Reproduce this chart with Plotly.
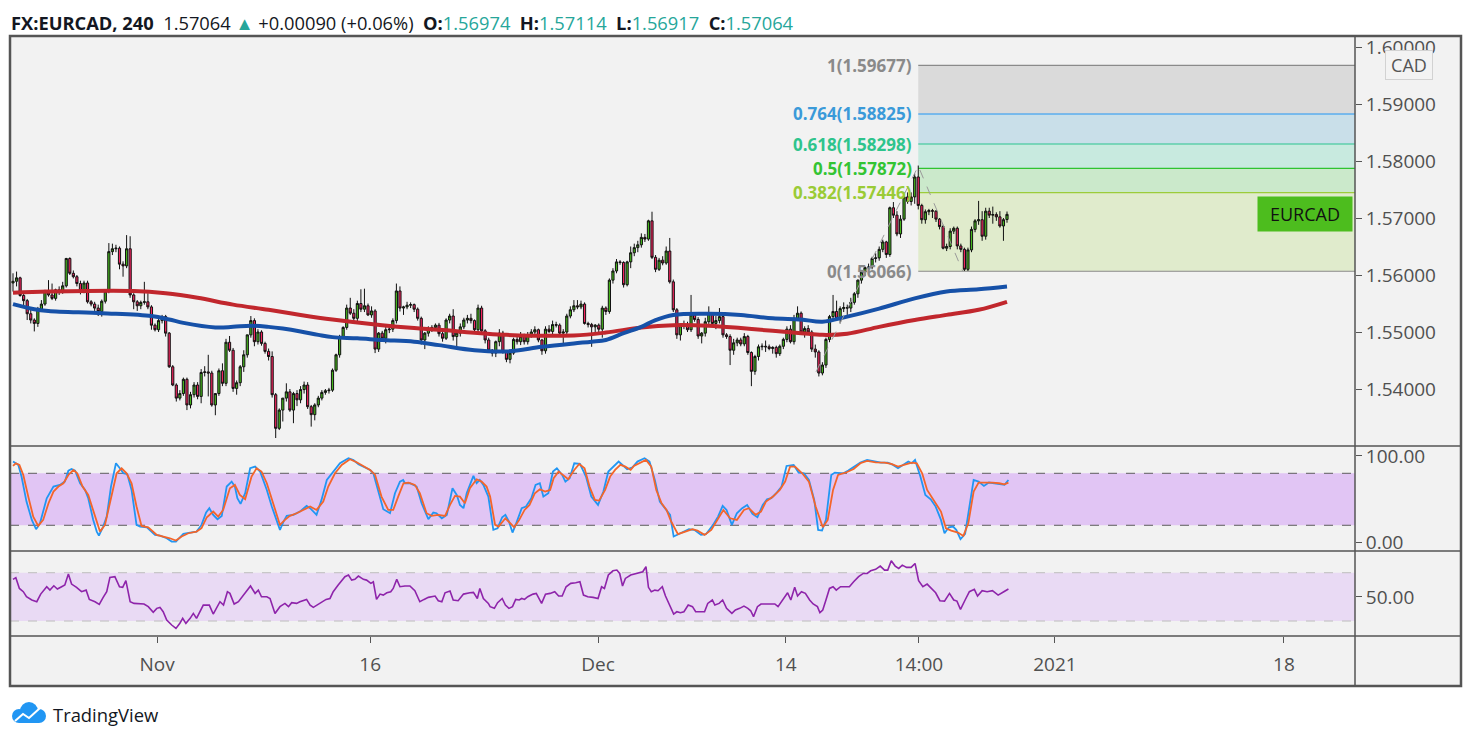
import plotly.graph_objects as go

FONT = "Open Sans, Noto Sans, sans-serif"

# 4h candles, bar 0 = first bar on the chart (late Oct 2020) ... bar 280 = last bar
opens = [
    1.5586, 1.5589, 1.5595, 1.5564, 1.5555, 1.5532, 1.5521, 1.5515, 1.5540, 1.5549,
    1.5572, 1.5565, 1.5559, 1.5574, 1.5570, 1.5581, 1.5629, 1.5603, 1.5597, 1.5585,
    1.5571, 1.5586, 1.5553, 1.5549, 1.5542, 1.5536, 1.5554, 1.5571, 1.5641, 1.5646,
    1.5647, 1.5619, 1.5616, 1.5646, 1.5565, 1.5553, 1.5546, 1.5552, 1.5553, 1.5544,
    1.5512, 1.5504, 1.5520, 1.5527, 1.5498, 1.5439, 1.5407, 1.5384, 1.5392, 1.5417,
    1.5372, 1.5390, 1.5407, 1.5387, 1.5429, 1.5430, 1.5428, 1.5372, 1.5392, 1.5432,
    1.5410, 1.5482, 1.5468, 1.5401, 1.5411, 1.5439, 1.5460, 1.5495, 1.5520, 1.5483,
    1.5500, 1.5480, 1.5466, 1.5457, 1.5390, 1.5331, 1.5363, 1.5384, 1.5395, 1.5363,
    1.5392, 1.5381, 1.5399, 1.5407, 1.5369, 1.5355, 1.5372, 1.5384, 1.5394, 1.5397,
    1.5398, 1.5433, 1.5460, 1.5492, 1.5508, 1.5542, 1.5533, 1.5524, 1.5550, 1.5540,
    1.5546, 1.5530, 1.5537, 1.5470, 1.5498, 1.5489, 1.5504, 1.5505, 1.5520, 1.5572,
    1.5542, 1.5544, 1.5547, 1.5548, 1.5540, 1.5524, 1.5486, 1.5498, 1.5506, 1.5508,
    1.5512, 1.5497, 1.5489, 1.5521, 1.5528, 1.5492, 1.5498, 1.5509, 1.5521, 1.5524,
    1.5520, 1.5504, 1.5542, 1.5502, 1.5486, 1.5468, 1.5463, 1.5483, 1.5498, 1.5466,
    1.5452, 1.5463, 1.5487, 1.5483, 1.5492, 1.5483, 1.5495, 1.5500, 1.5504, 1.5486,
    1.5467, 1.5505, 1.5501, 1.5513, 1.5512, 1.5498, 1.5500, 1.5528, 1.5539, 1.5546,
    1.5544, 1.5549, 1.5515, 1.5513, 1.5509, 1.5512, 1.5505, 1.5542, 1.5536, 1.5591,
    1.5607, 1.5623, 1.5622, 1.5583, 1.5623, 1.5639, 1.5648, 1.5653, 1.5666, 1.5663,
    1.5695, 1.5631, 1.5610, 1.5626, 1.5621, 1.5642, 1.5588, 1.5539, 1.5495, 1.5511,
    1.5513, 1.5504, 1.5530, 1.5522, 1.5493, 1.5498, 1.5518, 1.5532, 1.5515, 1.5520,
    1.5527, 1.5495, 1.5492, 1.5468, 1.5481, 1.5486, 1.5479, 1.5492, 1.5464, 1.5431,
    1.5457, 1.5474, 1.5475, 1.5474, 1.5471, 1.5473, 1.5462, 1.5475, 1.5487, 1.5505,
    1.5483, 1.5524, 1.5533, 1.5500, 1.5506, 1.5500, 1.5470, 1.5465, 1.5428, 1.5442,
    1.5487, 1.5527, 1.5536, 1.5524, 1.5541, 1.5543, 1.5542, 1.5552, 1.5567, 1.5591,
    1.5605, 1.5613, 1.5614, 1.5629, 1.5630, 1.5645, 1.5658, 1.5636, 1.5718, 1.5705,
    1.5672, 1.5698, 1.5737, 1.5729, 1.5737, 1.5772, 1.5722, 1.5697, 1.5711, 1.5713,
    1.5712, 1.5698, 1.5685, 1.5647, 1.5650, 1.5677, 1.5682, 1.5651, 1.5645, 1.5610,
    1.5644, 1.5680, 1.5695, 1.5697, 1.5668, 1.5712, 1.5705, 1.5706, 1.5702, 1.5686,
    1.56974,
]
highs = [
    1.5603, 1.5606, 1.5597, 1.5567, 1.5558, 1.5539, 1.5524, 1.5544, 1.5556, 1.5574,
    1.5591, 1.5585, 1.5576, 1.5580, 1.5588, 1.5630, 1.5631, 1.5608, 1.5600, 1.5590,
    1.5590, 1.5590, 1.5556, 1.5553, 1.5548, 1.5557, 1.5572, 1.5656, 1.5655, 1.5653,
    1.5650, 1.5624, 1.5670, 1.5668, 1.5568, 1.5556, 1.5555, 1.5588, 1.5568, 1.5547,
    1.5515, 1.5527, 1.5530, 1.5530, 1.5500, 1.5442, 1.5410, 1.5398, 1.5420, 1.5420,
    1.5395, 1.5412, 1.5412, 1.5435, 1.5440, 1.5460, 1.5432, 1.5393, 1.5436, 1.5445,
    1.5488, 1.5493, 1.5472, 1.5415, 1.5442, 1.5468, 1.5495, 1.5528, 1.5524, 1.5505,
    1.5503, 1.5483, 1.5471, 1.5466, 1.5393, 1.5366, 1.5384, 1.5410, 1.5400, 1.5395,
    1.5398, 1.5405, 1.5413, 1.5412, 1.5372, 1.5375, 1.5388, 1.5398, 1.5400, 1.5402,
    1.5436, 1.5462, 1.5495, 1.5510, 1.5548, 1.5560, 1.5540, 1.5555, 1.5575, 1.5576,
    1.5550, 1.5545, 1.5540, 1.5500, 1.5502, 1.5510, 1.5512, 1.5524, 1.5585, 1.5580,
    1.5546, 1.5553, 1.5552, 1.5550, 1.5543, 1.5527, 1.5500, 1.5510, 1.5512, 1.5515,
    1.5516, 1.5500, 1.5524, 1.5532, 1.5540, 1.5500, 1.5515, 1.5525, 1.5530, 1.5532,
    1.5522, 1.5548, 1.5546, 1.5505, 1.5490, 1.5470, 1.5485, 1.5505, 1.5502, 1.5468,
    1.5465, 1.5490, 1.5495, 1.5500, 1.5497, 1.5500, 1.5505, 1.5510, 1.5506, 1.5488,
    1.5510, 1.5512, 1.5520, 1.5518, 1.5515, 1.5505, 1.5532, 1.5545, 1.5556, 1.5556,
    1.5555, 1.5552, 1.5518, 1.5516, 1.5514, 1.5515, 1.5546, 1.5545, 1.5594, 1.5612,
    1.5628, 1.5626, 1.5624, 1.5625, 1.5650, 1.5655, 1.5660, 1.5673, 1.5672, 1.5697,
    1.5711, 1.5635, 1.5630, 1.5633, 1.5650, 1.5665, 1.5592, 1.5542, 1.5515, 1.5520,
    1.5518, 1.5565, 1.5535, 1.5526, 1.5500, 1.5525, 1.5545, 1.5535, 1.5528, 1.5542,
    1.5530, 1.5498, 1.5496, 1.5488, 1.5490, 1.5490, 1.5498, 1.5495, 1.5466, 1.5460,
    1.5478, 1.5480, 1.5485, 1.5478, 1.5475, 1.5476, 1.5478, 1.5490, 1.5510, 1.5512,
    1.5530, 1.5545, 1.5536, 1.5510, 1.5512, 1.5503, 1.5478, 1.5468, 1.5447, 1.5490,
    1.5530, 1.5565, 1.5555, 1.5545, 1.5552, 1.5548, 1.5560, 1.5570, 1.5592, 1.5607,
    1.5615, 1.5620, 1.5632, 1.5638, 1.5650, 1.5662, 1.5660, 1.5720, 1.5728, 1.5712,
    1.5705, 1.5745, 1.5745, 1.5745, 1.5778, 1.5792, 1.5725, 1.5715, 1.5716, 1.5716,
    1.5714, 1.5700, 1.5688, 1.5655, 1.5682, 1.5685, 1.5685, 1.5655, 1.5648, 1.5648,
    1.5685, 1.5698, 1.5730, 1.5712, 1.5718, 1.5718, 1.5720, 1.5710, 1.5712, 1.5700,
    1.57114,
]
lows = [
    1.5571, 1.5580, 1.5562, 1.5547, 1.5521, 1.5515, 1.5501, 1.5509, 1.5537, 1.5546,
    1.5562, 1.5556, 1.5555, 1.5565, 1.5567, 1.5578, 1.5600, 1.5594, 1.5580, 1.5566,
    1.5568, 1.5550, 1.5545, 1.5537, 1.5528, 1.5527, 1.5550, 1.5568, 1.5635, 1.5640,
    1.5610, 1.5597, 1.5612, 1.5560, 1.5540, 1.5537, 1.5540, 1.5548, 1.5540, 1.5504,
    1.5501, 1.5500, 1.5515, 1.5492, 1.5437, 1.5405, 1.5378, 1.5380, 1.5388, 1.5363,
    1.5366, 1.5385, 1.5382, 1.5375, 1.5422, 1.5387, 1.5369, 1.5354, 1.5388, 1.5405,
    1.5405, 1.5465, 1.5395, 1.5390, 1.5405, 1.5430, 1.5455, 1.5490, 1.5475, 1.5478,
    1.5476, 1.5462, 1.5450, 1.5385, 1.5314, 1.5328, 1.5343, 1.5378, 1.5360, 1.5340,
    1.5370, 1.5375, 1.5392, 1.5365, 1.5334, 1.5345, 1.5368, 1.5380, 1.5390, 1.5392,
    1.5395, 1.5430, 1.5455, 1.5488, 1.5504, 1.5530, 1.5515, 1.5518, 1.5535, 1.5535,
    1.5528, 1.5525, 1.5463, 1.5465, 1.5485, 1.5480, 1.5498, 1.5500, 1.5515, 1.5536,
    1.5530, 1.5540, 1.5542, 1.5535, 1.5520, 1.5478, 1.5470, 1.5492, 1.5500, 1.5502,
    1.5492, 1.5483, 1.5486, 1.5515, 1.5485, 1.5475, 1.5492, 1.5505, 1.5515, 1.5515,
    1.5500, 1.5500, 1.5498, 1.5480, 1.5465, 1.5457, 1.5456, 1.5475, 1.5462, 1.5447,
    1.5445, 1.5460, 1.5478, 1.5477, 1.5478, 1.5478, 1.5490, 1.5495, 1.5482, 1.5460,
    1.5462, 1.5498, 1.5495, 1.5508, 1.5492, 1.5477, 1.5496, 1.5524, 1.5535, 1.5540,
    1.5540, 1.5513, 1.5508, 1.5474, 1.5500, 1.5500, 1.5490, 1.5530, 1.5532, 1.5585,
    1.5603, 1.5618, 1.5578, 1.5580, 1.5612, 1.5633, 1.5640, 1.5648, 1.5658, 1.5660,
    1.5628, 1.5605, 1.5607, 1.5617, 1.5618, 1.5585, 1.5535, 1.5488, 1.5485, 1.5505,
    1.5500, 1.5500, 1.5518, 1.5488, 1.5480, 1.5492, 1.5512, 1.5512, 1.5505, 1.5515,
    1.5490, 1.5488, 1.5442, 1.5460, 1.5475, 1.5475, 1.5475, 1.5460, 1.5405, 1.5425,
    1.5450, 1.5468, 1.5465, 1.5468, 1.5462, 1.5455, 1.5458, 1.5470, 1.5482, 1.5480,
    1.5478, 1.5520, 1.5495, 1.5490, 1.5495, 1.5465, 1.5455, 1.5422, 1.5424, 1.5437,
    1.5482, 1.5522, 1.5522, 1.5515, 1.5535, 1.5530, 1.5535, 1.5548, 1.5560, 1.5585,
    1.5598, 1.5608, 1.5610, 1.5622, 1.5625, 1.5640, 1.5630, 1.5632, 1.5700, 1.5668,
    1.5665, 1.5695, 1.5725, 1.5722, 1.5725, 1.5715, 1.5690, 1.5690, 1.5705, 1.5700,
    1.5693, 1.5680, 1.5645, 1.5642, 1.5645, 1.5672, 1.5645, 1.5640, 1.5607, 1.5607,
    1.5640, 1.5675, 1.5688, 1.5660, 1.5662, 1.5700, 1.5690, 1.5695, 1.5683, 1.5660,
    1.56917,
]
closes = [
    1.5589, 1.5595, 1.5564, 1.5555, 1.5532, 1.5521, 1.5515, 1.5540, 1.5549, 1.5572,
    1.5565, 1.5559, 1.5574, 1.5570, 1.5581, 1.5629, 1.5603, 1.5597, 1.5585, 1.5571,
    1.5586, 1.5553, 1.5549, 1.5542, 1.5536, 1.5554, 1.5571, 1.5641, 1.5646, 1.5647,
    1.5619, 1.5616, 1.5646, 1.5565, 1.5553, 1.5546, 1.5552, 1.5553, 1.5544, 1.5512,
    1.5504, 1.5520, 1.5527, 1.5498, 1.5439, 1.5407, 1.5384, 1.5392, 1.5417, 1.5372,
    1.5390, 1.5407, 1.5387, 1.5429, 1.5430, 1.5428, 1.5372, 1.5392, 1.5432, 1.5410,
    1.5482, 1.5468, 1.5401, 1.5411, 1.5439, 1.5460, 1.5495, 1.5520, 1.5483, 1.5500,
    1.5480, 1.5466, 1.5457, 1.5390, 1.5331, 1.5363, 1.5384, 1.5395, 1.5363, 1.5392,
    1.5381, 1.5399, 1.5407, 1.5369, 1.5355, 1.5372, 1.5384, 1.5394, 1.5397, 1.5398,
    1.5433, 1.5460, 1.5492, 1.5508, 1.5542, 1.5533, 1.5524, 1.5550, 1.5540, 1.5546,
    1.5530, 1.5537, 1.5470, 1.5498, 1.5489, 1.5504, 1.5505, 1.5520, 1.5572, 1.5542,
    1.5544, 1.5547, 1.5548, 1.5540, 1.5524, 1.5486, 1.5498, 1.5506, 1.5508, 1.5512,
    1.5497, 1.5489, 1.5521, 1.5528, 1.5492, 1.5498, 1.5509, 1.5521, 1.5524, 1.5520,
    1.5504, 1.5542, 1.5502, 1.5486, 1.5468, 1.5463, 1.5483, 1.5498, 1.5466, 1.5452,
    1.5463, 1.5487, 1.5483, 1.5492, 1.5483, 1.5495, 1.5500, 1.5504, 1.5486, 1.5467,
    1.5505, 1.5501, 1.5513, 1.5512, 1.5498, 1.5500, 1.5528, 1.5539, 1.5546, 1.5544,
    1.5549, 1.5515, 1.5513, 1.5509, 1.5512, 1.5505, 1.5542, 1.5536, 1.5591, 1.5607,
    1.5623, 1.5622, 1.5583, 1.5623, 1.5639, 1.5648, 1.5653, 1.5666, 1.5663, 1.5695,
    1.5631, 1.5610, 1.5626, 1.5621, 1.5642, 1.5588, 1.5539, 1.5495, 1.5511, 1.5513,
    1.5504, 1.5530, 1.5522, 1.5493, 1.5498, 1.5518, 1.5532, 1.5515, 1.5520, 1.5527,
    1.5495, 1.5492, 1.5468, 1.5481, 1.5486, 1.5479, 1.5492, 1.5464, 1.5431, 1.5457,
    1.5474, 1.5475, 1.5474, 1.5471, 1.5473, 1.5462, 1.5475, 1.5487, 1.5505, 1.5483,
    1.5524, 1.5533, 1.5500, 1.5506, 1.5500, 1.5470, 1.5465, 1.5428, 1.5442, 1.5487,
    1.5527, 1.5536, 1.5524, 1.5541, 1.5543, 1.5542, 1.5552, 1.5567, 1.5591, 1.5605,
    1.5613, 1.5614, 1.5629, 1.5630, 1.5645, 1.5658, 1.5636, 1.5718, 1.5705, 1.5672,
    1.5698, 1.5737, 1.5729, 1.5737, 1.5772, 1.5722, 1.5697, 1.5711, 1.5713, 1.5712,
    1.5698, 1.5685, 1.5647, 1.5650, 1.5677, 1.5682, 1.5651, 1.5645, 1.5610, 1.5644,
    1.5680, 1.5695, 1.5697, 1.5668, 1.5712, 1.5705, 1.5706, 1.5702, 1.5686, 1.5697,
    1.57064,
]
bars = list(range(len(closes)))

# moving averages read at a few bars along each curve (bar, price)
ma_red_pts = [
    (0, 1.5569), (10, 1.5571), (34, 1.5572), (43, 1.5568), (52, 1.5560), (62, 1.5548),
    (72, 1.5539), (81, 1.5530), (90, 1.5522), (104, 1.5512), (113, 1.5507), (120, 1.5504),
    (139, 1.5495), (158, 1.5494), (167, 1.5499), (177, 1.5508), (186, 1.5512), (196, 1.5511),
    (205, 1.5507), (214, 1.5502), (222, 1.5498), (228, 1.5495), (235, 1.5497), (244, 1.5509),
    (254, 1.5521), (263, 1.5530), (272, 1.5539), (280, 1.5553),
]
ma_blue_pts = [
    (0, 1.5549), (6, 1.5540), (10, 1.5537), (25, 1.5533), (39, 1.5528), (44, 1.5522),
    (48, 1.5516), (57, 1.5508), (62, 1.5509), (67, 1.5511), (72, 1.5509), (76, 1.5506),
    (81, 1.5501), (86, 1.5495), (90, 1.5491), (97, 1.5489), (104, 1.5486), (113, 1.5483),
    (120, 1.5477), (130, 1.5468), (139, 1.5466), (149, 1.5474), (158, 1.5480), (163, 1.5483),
    (167, 1.5486), (172, 1.5498), (177, 1.5509), (181, 1.5521), (186, 1.5530), (196, 1.5532),
    (205, 1.5530), (214, 1.5524), (222, 1.5522), (228, 1.5518), (235, 1.5527), (244, 1.5541),
    (254, 1.5559), (263, 1.5571), (272, 1.5575), (280, 1.5580),
]

# stochastic %K (blue) and %D (orange), (bar, value)
stoch_k_pts = [
    (0, 93.5), (1.5, 89.7), (2.4, 76.2), (3.8, 47.3), (5.3, 26.2), (6.5, 15.4), (7.6, 22.3),
    (9.5, 51.2), (11.4, 64.7), (12.3, 65.4), (13.2, 66.6), (14.6, 70.4), (15.6, 83.1),
    (16.5, 85.0), (17.5, 83.1), (18.9, 68.5), (20.3, 60.8), (21.2, 51.2), (22.6, 26.2),
    (23.6, 12.7), (24.2, 8.1), (25.4, 18.5), (26.4, 30.0), (27.6, 64.7), (29.0, 91.6),
    (30.1, 85.8), (31.1, 80.0), (32.2, 78.9), (33.4, 60.8), (34.8, 20.4), (35.8, 18.5),
    (37.7, 17.7), (40.0, 8.9), (41.4, 8.1), (43.3, 5.0), (44.7, 1.2), (45.9, 1.2), (47.1, 6.2),
    (48.0, 10.0), (49.9, 11.6), (51.7, 12.7), (53.1, 20.4), (54.4, 34.7), (55.3, 39.7),
    (56.4, 32.0), (57.6, 27.0), (58.8, 30.8), (60.2, 64.7), (61.6, 70.4), (62.5, 64.7),
    (63.2, 51.2), (64.1, 44.7), (65.4, 57.0), (66.8, 85.8), (68.2, 87.7), (69.6, 82.0),
    (71.5, 60.8), (72.9, 41.6), (74.1, 26.2), (75.2, 14.7), (76.2, 24.3), (77.1, 30.8),
    (79.0, 32.0), (80.8, 35.8), (82.7, 42.3), (83.7, 39.7), (85.5, 32.0), (86.9, 49.3),
    (88.4, 72.3), (90.2, 82.0), (92.1, 91.6), (94.5, 97.3), (95.9, 95.4), (97.3, 90.4),
    (98.7, 87.7), (100.6, 83.9), (101.5, 80.0), (102.9, 58.9), (104.3, 38.5), (106.2, 33.9),
    (107.6, 57.0), (109.0, 70.4), (109.9, 72.3), (110.4, 68.5), (111.8, 68.5), (113.7, 64.7),
    (115.1, 45.4), (117.0, 27.0), (118.4, 34.7), (119.3, 33.9), (120.8, 28.1), (122.2, 32.0),
    (123.8, 62.7), (125.0, 55.0), (125.9, 43.5), (126.9, 39.7), (127.8, 57.0), (129.7, 77.0),
    (130.6, 68.5), (131.5, 72.3), (132.5, 66.6), (133.9, 53.1), (135.3, 14.7), (136.5, 16.6),
    (137.8, 29.3), (138.7, 32.0), (139.7, 24.3), (140.7, 11.6), (141.6, 20.4), (143.3, 39.7),
    (144.5, 41.6), (146.0, 51.2), (147.2, 66.6), (148.4, 68.5), (149.4, 53.1), (150.8, 57.0),
    (152.1, 82.0), (153.2, 85.8), (154.7, 78.1), (155.6, 70.4), (156.8, 74.3), (158.1, 91.6),
    (159.7, 90.8), (161.4, 76.2), (162.9, 53.1), (164.8, 43.5), (166.3, 58.9), (167.7, 82.0),
    (169.2, 87.7), (170.6, 93.5), (173.0, 84.7), (174.5, 87.0), (175.9, 93.5), (177.9, 97.3),
    (179.3, 93.5), (180.8, 72.3), (182.2, 47.3), (183.7, 39.7), (185.1, 32.0), (186.1, 7.0),
    (188.0, 10.8), (190.4, 15.4), (191.9, 14.7), (193.8, 8.9), (195.2, 9.7), (197.2, 20.4),
    (198.6, 30.0), (199.9, 42.3), (201.0, 37.7), (202.5, 20.4), (203.9, 33.9), (205.4, 39.7),
    (206.8, 43.5), (208.3, 33.1), (209.7, 29.3), (211.2, 43.5), (212.4, 50.0), (213.6, 51.2),
    (215.0, 57.0), (216.5, 64.7), (217.9, 88.5), (219.9, 89.7), (221.3, 80.8), (222.8, 80.0),
    (224.2, 72.3), (225.7, 49.3), (226.8, 14.7), (227.9, 13.9), (229.0, 26.2), (230.5, 78.1),
    (231.5, 80.8), (233.9, 80.0), (235.3, 83.1), (236.8, 87.0), (238.7, 92.3), (240.6, 95.4),
    (242.6, 93.5), (244.5, 92.3), (246.4, 92.3), (247.9, 89.7), (249.3, 85.8), (250.8, 89.7),
    (252.2, 93.5), (253.2, 91.6), (254.1, 95.4), (255.6, 76.2), (257.0, 55.0), (258.5, 50.0),
    (259.9, 41.6), (261.4, 26.2), (262.4, 10.8), (263.6, 17.7), (264.8, 18.5), (265.7, 14.7),
    (266.9, 3.9), (268.2, 10.0), (269.4, 41.6), (270.6, 72.3), (272.0, 70.4), (273.5, 65.4),
    (274.9, 69.3), (276.4, 68.5), (277.8, 67.3), (279.3, 66.6), (280.4, 72.3),
]
stoch_d_pts = [
    (0, 88.5), (0.8, 91.6), (1.8, 89.7), (2.9, 78.1), (4.3, 53.1), (5.7, 30.0), (7.1, 19.3),
    (8.5, 26.2), (10, 45.4), (11.4, 58.9), (12.8, 64.7), (14.2, 68.5), (15.6, 78.1), (17, 83.9),
    (18.1, 80.0), (19.6, 64.7), (21.2, 55.0), (22.6, 37.7), (24.5, 12.7), (25.9, 20.4),
    (27.3, 47.3), (29.2, 80.0), (30.6, 85.8), (32, 80.0), (33.4, 68.5), (34.8, 41.6),
    (36.2, 19.3), (38.1, 17.7), (40.5, 8.9), (42.3, 7.0), (44.2, 5.0), (45.9, 2.3), (47.5, 7.0),
    (49.4, 10.8), (51.7, 12.7), (53.1, 16.6), (54.6, 29.3), (56.4, 35.8), (57.8, 30.0),
    (59.2, 37.7), (61.1, 62.7), (62.5, 66.6), (63.9, 55.0), (65.4, 50.0), (67.2, 76.2),
    (68.6, 85.8), (70, 82.0), (71.5, 68.5), (73.3, 45.4), (75.2, 20.4), (76.6, 26.2),
    (78, 30.8), (79.9, 33.9), (81.8, 37.7), (83.7, 41.6), (85.5, 37.7), (87.4, 47.3),
    (88.8, 64.7), (90.7, 80.0), (92.6, 89.7), (94.9, 96.2), (96.8, 92.7), (98.7, 88.5),
    (100.6, 83.9), (102, 78.1), (103.8, 53.1), (105.7, 37.7), (107.1, 37.7), (108.5, 53.1),
    (110, 68.5), (111.4, 69.3), (113.2, 66.6), (114.6, 57.0), (116.5, 33.9), (117.9, 30.8),
    (119.8, 32.0), (121.7, 30.8), (123.1, 43.5), (124.5, 53.9), (125.9, 53.1), (127.3, 45.4),
    (128.7, 62.7), (130.6, 73.1), (132, 70.4), (133.4, 64.7), (134.4, 53.1), (135.8, 20.4),
    (136.8, 18.5), (138.7, 28.1), (140.0, 22.3), (141.2, 17.7), (142.6, 26.2), (144.1, 37.7),
    (145.5, 43.5), (147.0, 57.0), (148.4, 61.6), (149.9, 58.9), (151.3, 60.8), (152.3, 74.3),
    (153.7, 82.0), (155.2, 77.0), (156.4, 73.1), (158.1, 83.9), (159.5, 90.8), (161.0, 85.8),
    (162.4, 64.7), (163.9, 49.3), (165.1, 48.5), (166.8, 60.8), (168.2, 76.2), (169.6, 83.9),
    (171.1, 89.7), (172.5, 87.7), (174.0, 83.9), (174.9, 88.5), (176.9, 92.3), (178.3, 95.4),
    (179.8, 87.7), (181.2, 60.8), (182.7, 45.4), (184.1, 37.7), (185.4, 24.3), (187.3, 9.7),
    (189.4, 12.7), (191.4, 15.4), (192.8, 13.9), (194.8, 8.9), (196.7, 14.7), (198.1, 24.3),
    (200.1, 37.7), (202.0, 28.1), (203.9, 26.2), (205.9, 37.7), (207.3, 39.7), (209.2, 32.0),
    (210.7, 35.8), (212.1, 47.3), (214.1, 53.1), (216.0, 60.8), (217.5, 70.4), (218.9, 87.7),
    (220.3, 87.7), (222.3, 80.0), (224.2, 70.4), (226.1, 41.6), (228.1, 17.7), (229.5, 26.2),
    (231.0, 60.8), (232.4, 78.1), (234.8, 81.2), (236.8, 85.0), (238.7, 91.6), (240.6, 94.3),
    (243.0, 92.7), (245.5, 92.3), (247.4, 90.8), (249.3, 87.7), (251.3, 89.7), (253.2, 92.3),
    (254.6, 91.6), (256.1, 80.0), (257.5, 60.8), (259.5, 47.3), (261.4, 35.8), (262.8, 16.6),
    (264.3, 13.9), (266.2, 11.6), (267.7, 7.7), (269.1, 22.3), (270.6, 58.9), (272.0, 69.3),
    (273.9, 69.7), (275.9, 69.3), (277.8, 68.5), (279.3, 67.3), (280.4, 69.3),
]

# RSI (bar, value)
rsi_pts = [
    (0, 64.5), (0.8, 65.9), (1.8, 57.0), (2.9, 54.3), (3.8, 50.1), (5.3, 47.4), (6.7, 46.0),
    (7.8, 52.3), (9.5, 58.4), (10.4, 55.6), (11.5, 59.2), (12.5, 56.5), (13.7, 58.4),
    (14.6, 59.8), (15.6, 68.9), (16.5, 60.6), (17.9, 57.9), (19.3, 54.3), (20.6, 55.6),
    (21.5, 47.9), (23.1, 46.0), (24.3, 43.8), (25.4, 49.6), (26.4, 54.3), (27.3, 66.1),
    (28.7, 66.7), (30.0, 58.4), (30.9, 57.9), (31.8, 63.4), (33.0, 46.0), (34.1, 44.6),
    (35.8, 44.6), (36.9, 44.1), (38.1, 41.9), (39.5, 37.2), (40.5, 40.5), (41.4, 41.3),
    (42.3, 37.7), (43.3, 30.8), (44.7, 26.7), (45.9, 23.9), (47.0, 28.1), (47.8, 32.2),
    (48.7, 28.1), (49.9, 32.2), (50.8, 36.3), (51.7, 32.2), (53.6, 43.2), (55.3, 43.2),
    (56.4, 35.8), (58.3, 46.0), (59.3, 43.2), (60.4, 54.3), (61.1, 52.9), (62.3, 44.1),
    (63.5, 46.0), (65.4, 52.9), (66.9, 59.0), (68.2, 52.9), (69.1, 55.6), (70.0, 50.1),
    (71.5, 50.1), (72.4, 48.7), (73.8, 36.3), (75.2, 41.9), (76.6, 44.6), (77.6, 41.9),
    (78.5, 45.2), (79.9, 44.6), (80.8, 46.0), (82.7, 47.9), (83.7, 43.2), (84.6, 41.3),
    (86.0, 44.1), (86.9, 46.0), (88.2, 47.9), (89.3, 48.7), (90.2, 54.3), (91.6, 59.8),
    (93.5, 66.7), (94.5, 68.1), (95.4, 63.9), (96.3, 64.5), (97.3, 67.2), (98.7, 64.5),
    (99.6, 63.9), (100.8, 61.2), (101.5, 62.5), (102.4, 47.9), (103.4, 52.3), (104.3, 51.5),
    (105.3, 53.4), (106.4, 54.3), (107.1, 57.0), (108.1, 64.5), (109.0, 58.4), (110.4, 59.0),
    (111.8, 59.0), (113.2, 55.1), (114.6, 46.0), (115.8, 47.9), (117.0, 49.6), (118.9, 50.7),
    (119.8, 46.8), (120.8, 46.0), (121.7, 53.4), (123.1, 54.8), (124.0, 47.4), (125.4, 46.8),
    (126.9, 52.3), (128.7, 53.4), (129.7, 53.7), (130.8, 48.7), (131.5, 57.0), (132.5, 48.7),
    (133.9, 44.6), (134.4, 41.9), (135.6, 40.5), (136.5, 45.2), (137.8, 48.7), (138.7, 43.2),
    (139.7, 40.5), (140.7, 41.9), (141.6, 47.9), (142.6, 47.4), (143.3, 48.7), (144.1, 47.9),
    (145.0, 50.1), (146.5, 52.3), (147.4, 52.9), (148.9, 44.6), (150.0, 52.3), (151.3, 52.9),
    (152.6, 54.3), (153.7, 50.7), (154.7, 50.7), (155.8, 58.4), (157.1, 61.2), (158.5, 61.7),
    (159.7, 62.5), (160.7, 51.5), (161.9, 50.1), (163.4, 49.6), (164.8, 48.7), (165.8, 58.4),
    (166.6, 57.0), (167.7, 68.1), (169.0, 71.6), (170.1, 72.2), (170.9, 69.4), (171.7, 59.0),
    (172.5, 65.3), (174.0, 68.1), (175.0, 68.9), (176.4, 70.0), (177.4, 70.8), (178.3, 75.0),
    (179.0, 57.9), (179.8, 54.3), (180.8, 55.6), (181.7, 55.1), (182.9, 58.4), (183.8, 50.7),
    (185.1, 41.9), (186.1, 35.8), (187.0, 37.7), (188.0, 36.9), (189.0, 37.7), (190.2, 43.2),
    (191.4, 41.9), (192.3, 37.7), (193.3, 37.7), (194.8, 37.7), (195.7, 44.6), (197.0, 47.4),
    (197.7, 43.2), (198.9, 44.6), (199.9, 47.4), (201.0, 40.5), (202.5, 36.3), (203.5, 39.1),
    (204.7, 40.5), (205.9, 42.4), (207.0, 40.5), (207.8, 38.5), (208.6, 33.6), (209.7, 41.9),
    (210.7, 44.1), (211.7, 44.1), (213.1, 44.1), (214.6, 44.1), (215.5, 41.9), (217.0, 48.7),
    (218.2, 53.4), (219.1, 47.4), (220.2, 57.9), (221.0, 50.7), (222.1, 54.3), (223.2, 52.9),
    (224.4, 47.4), (225.4, 44.1), (226.6, 41.9), (227.3, 36.9), (228.1, 39.1), (229.0, 47.4),
    (230.0, 57.0), (231.0, 58.4), (231.9, 55.6), (233.1, 58.4), (234.4, 58.4), (235.6, 58.4),
    (236.8, 62.5), (238.2, 66.7), (239.5, 69.4), (240.6, 69.4), (241.6, 71.6), (243.0, 72.8),
    (244.3, 75.5), (245.5, 72.2), (246.4, 72.2), (247.4, 79.9), (248.5, 75.5), (249.5, 73.6),
    (250.5, 76.3), (251.7, 74.4), (253.0, 74.4), (254.1, 77.7), (255.1, 63.4), (256.3, 58.4),
    (257.5, 60.6), (259.0, 56.2), (259.9, 53.4), (261.1, 46.8), (262.4, 46.5), (263.8, 52.9),
    (265.0, 47.4), (265.9, 46.5), (266.9, 39.6), (268.2, 47.4), (269.4, 54.3), (270.8, 56.2),
    (271.7, 50.7), (273.0, 55.1), (274.4, 54.3), (275.9, 55.1), (277.5, 51.5), (279.1, 54.3),
    (280.4, 56.5),
]

# trend-based fib extension
fib_ratios = ["1", "0.764", "0.618", "0.5", "0.382", "0"]
fib_levels = [1.59677, 1.58825, 1.58298, 1.57872, 1.57446, 1.56066]
fib_line_colors = ["#8a8a8a", "#2196f3", "#2bc48f", "#2fc42f", "#9ccc3a", "#8a8a8a"]
fib_text_colors = ["#8a8a8a", "#3a9ad9", "#2ec48c", "#33c433", "#9acb36", "#8a8a8a"]
fib_fills = ["#dadada", "#c9dfe9", "#c8eadf", "#cbe9cb", "#e0ebcc"]
fib_start = 255
trend_bars = [226.2, 255, 267.5]
trend_prices = [1.5430, 1.5791, 1.5607]

tick_pos = [40.6, 100.6, 164.8, 217.7, 255.2, 293.5, 358.0]
tick_text = ["Nov", "16", "Dec", "14", "14:00", "2021", "18"]
price_ticks = [1.54, 1.55, 1.56, 1.57, 1.58, 1.59, 1.60]

# ---- layout geometry, in pixels of the 1471x741 page
# (the page body keeps its 8px margin, so the figure itself starts at 8,8)
OFF = 8
FW, FH = 1471 - OFF, 741 - OFF
L, R, T, B = 10, 1461, 36, 686
W, H = R - L, B - T


def px(x):
    return (x - L) / W


def py(y):
    return (B - y) / H


xd = px(1355)
dom_main = [py(446), 1]
dom_stoch = [py(551), py(446)]
dom_rsi = [py(636), py(551)]
xr = [-3 / 3.55, -3 / 3.55 + 1345 / 3.55]

fig = go.Figure()

fig.add_trace(go.Scatter(
    x=[p[0] for p in ma_red_pts], y=[p[1] for p in ma_red_pts], mode="lines",
    line=dict(color="#c1272d", width=4, shape="spline"), xaxis="x", yaxis="y"))
fig.add_trace(go.Scatter(
    x=[p[0] for p in ma_blue_pts], y=[p[1] for p in ma_blue_pts], mode="lines",
    line=dict(color="#1651a8", width=4, shape="spline"), xaxis="x", yaxis="y"))

fig.add_trace(go.Candlestick(
    x=bars, open=opens, high=highs, low=lows, close=closes,
    increasing=dict(fillcolor="#45b51c", line=dict(color="#111111", width=1)),
    decreasing=dict(fillcolor="#f2245e", line=dict(color="#111111", width=1)),
    whiskerwidth=0, xaxis="x", yaxis="y"))

fig.add_trace(go.Scatter(
    x=trend_bars, y=trend_prices, mode="lines",
    line=dict(color="#9a9a9a", width=1, dash="dash"), xaxis="x", yaxis="y"))

fig.add_trace(go.Scatter(
    x=[p[0] for p in stoch_k_pts], y=[p[1] for p in stoch_k_pts], mode="lines",
    line=dict(color="#2196f3", width=1.8), xaxis="x", yaxis="y2"))
fig.add_trace(go.Scatter(
    x=[p[0] for p in stoch_d_pts], y=[p[1] for p in stoch_d_pts], mode="lines",
    line=dict(color="#f4652a", width=1.8), xaxis="x", yaxis="y2"))
fig.add_trace(go.Scatter(
    x=[p[0] for p in rsi_pts], y=[p[1] for p in rsi_pts], mode="lines",
    line=dict(color="#8e24aa", width=1.6), xaxis="x", yaxis="y3"))

shapes = [dict(type="rect", xref="paper", yref="paper", x0=0, x1=1, y0=0, y1=1,
               fillcolor="#f2f2f2", line=dict(width=0), layer="below")]

# fib zones and lines
for i in range(len(fib_fills)):
    shapes.append(dict(type="rect", xref="x", yref="y", x0=fib_start, x1=xr[1],
                       y0=fib_levels[i + 1], y1=fib_levels[i], fillcolor=fib_fills[i],
                       line=dict(width=0), layer="below"))
for lvl, col in zip(fib_levels, fib_line_colors):
    shapes.append(dict(type="line", xref="x", yref="y", x0=fib_start, x1=xr[1],
                       y0=lvl, y1=lvl, line=dict(color=col, width=1.2), layer="below"))

# oscillator bands
shapes.append(dict(type="rect", xref="x", yref="y2", x0=xr[0], x1=xr[1], y0=20, y1=80,
                   fillcolor="#e1c5f4", line=dict(width=0), layer="below"))
for v in (20, 80):
    shapes.append(dict(type="line", xref="x", yref="y2", x0=xr[0], x1=xr[1], y0=v, y1=v,
                       line=dict(color="#5c5c5c", width=1, dash="dash"), layer="below"))
shapes.append(dict(type="rect", xref="x", yref="y3", x0=xr[0], x1=xr[1], y0=30, y1=70,
                   fillcolor="#e9daf4", line=dict(width=0), layer="below"))
for v in (30, 70):
    shapes.append(dict(type="line", xref="x", yref="y3", x0=xr[0], x1=xr[1], y0=v, y1=v,
                       line=dict(color="#bdbdbd", width=1, dash="dash"), layer="below"))

# pane frame
frame = "#555555"
shapes.append(dict(type="rect", xref="paper", yref="paper", x0=0, x1=1, y0=0, y1=1,
                   line=dict(color=frame, width=2.5)))
shapes.append(dict(type="line", xref="paper", yref="paper", x0=xd, x1=xd, y0=0, y1=1,
                   line=dict(color=frame, width=1.5)))
for yy in (dom_main[0], dom_stoch[0], dom_rsi[0]):
    shapes.append(dict(type="line", xref="paper", yref="paper", x0=0, x1=1, y0=yy, y1=yy,
                       line=dict(color=frame, width=1.5)))

# TradingView cloud mark
blue = "#2196f3"
for cx, cy, r in ((19, 716, 7), (29, 711, 9), (39, 716, 7)):
    shapes.append(dict(type="circle", xref="paper", yref="paper",
                       x0=px(cx - r), x1=px(cx + r), y0=py(cy + r), y1=py(cy - r),
                       fillcolor=blue, line=dict(width=0)))
shapes.append(dict(type="rect", xref="paper", yref="paper", x0=px(19), x1=px(39),
                   y0=py(723), y1=py(714), fillcolor=blue, line=dict(width=0)))
shapes.append(dict(type="path", xref="paper", yref="paper",
                   path=f"M {px(15)},{py(721)} L {px(23)},{py(714)} L {px(29)},{py(718)} L {px(40)},{py(708)}",
                   line=dict(color="white", width=2)))

annotations = []
teal = "#26a69a"
dark = "#131722"
header = (
    f"<b>FX:EURCAD, 240</b>  1.57064 <span style='color:{teal}'>▲</span> +0.00090 (+0.06%)  "
    f"<b>O:</b><span style='color:{teal}'>1.56974</span>  <b>H:</b><span style='color:{teal}'>1.57114</span>  "
    f"<b>L:</b><span style='color:{teal}'>1.56917</span>  <b>C:</b><span style='color:{teal}'>1.57064</span>"
)
annotations.append(dict(xref="paper", yref="paper", x=0, y=py(9), xanchor="left", yanchor="top",
                        text=header, showarrow=False, borderpad=0,
                        font=dict(family=FONT, size=18.3, color=dark)))

for lab, lvl, col in zip(fib_ratios, fib_levels, fib_text_colors):
    annotations.append(dict(xref="x", yref="y", x=fib_start, y=lvl, xanchor="right", yanchor="middle",
                            xshift=-4, text=f"<b>{lab}({lvl:.5f})</b>", showarrow=False,
                            font=dict(family=FONT, size=17, color=col)))

annotations.append(dict(xref="paper", yref="y", x=px(1305), y=closes[-1], xanchor="center",
                        yanchor="middle", text="EURCAD", showarrow=False, bgcolor="#4dbd1e",
                        width=90, height=30, borderpad=2,
                        font=dict(family=FONT, size=18, color="#111111")))
annotations.append(dict(xref="paper", yref="paper", x=px(1409), y=py(65), xanchor="center",
                        yanchor="middle", text="CAD", showarrow=False, bgcolor="#f3f3f3",
                        bordercolor="#d2d2d2", borderwidth=1, borderpad=3, width=40, height=22,
                        font=dict(family=FONT, size=18, color="#555555")))
annotations.append(dict(xref="paper", yref="paper", x=px(51), y=py(714), xanchor="left",
                        yanchor="middle", text="TradingView", showarrow=False,
                        font=dict(family=FONT, size=18.4, color=dark)))

tick_font = dict(family=FONT, size=19, color="#505050")
yax_common = dict(side="right", anchor="free", position=xd, ticks="outside", ticklen=6,
                  tickcolor="#555555", showgrid=False, zeroline=False, showline=False,
                  tickfont=tick_font, fixedrange=True)

fig.update_layout(
    width=FW, height=FH,
    margin=dict(l=L - OFF, r=FW - (R - OFF), t=T - OFF, b=FH - (B - OFF)),
    paper_bgcolor="white", plot_bgcolor="#f2f2f2",
    showlegend=False, hovermode=False, boxgap=0.12,
    shapes=shapes, annotations=annotations,
    xaxis=dict(domain=[0, xd], range=xr, anchor="y3", showgrid=False, zeroline=False,
               tickvals=tick_pos, ticktext=tick_text, ticks="outside", ticklen=6,
               tickcolor="#555555", tickfont=tick_font, ticklabelstandoff=5,
               rangeslider=dict(visible=False), fixedrange=True),
    yaxis=dict(domain=dom_main, range=[1.5300, 1.60193], tickvals=price_ticks,
               tickformat=".5f", **yax_common),
    yaxis2=dict(domain=dom_stoch, range=[-9.7, 111.5], tickvals=[0, 100],
                tickformat=".2f", **yax_common),
    yaxis3=dict(domain=dom_rsi, range=[17.6, 88.0], tickvals=[50],
                tickformat=".2f", **yax_common),
)

fig.write_html("out.html")
